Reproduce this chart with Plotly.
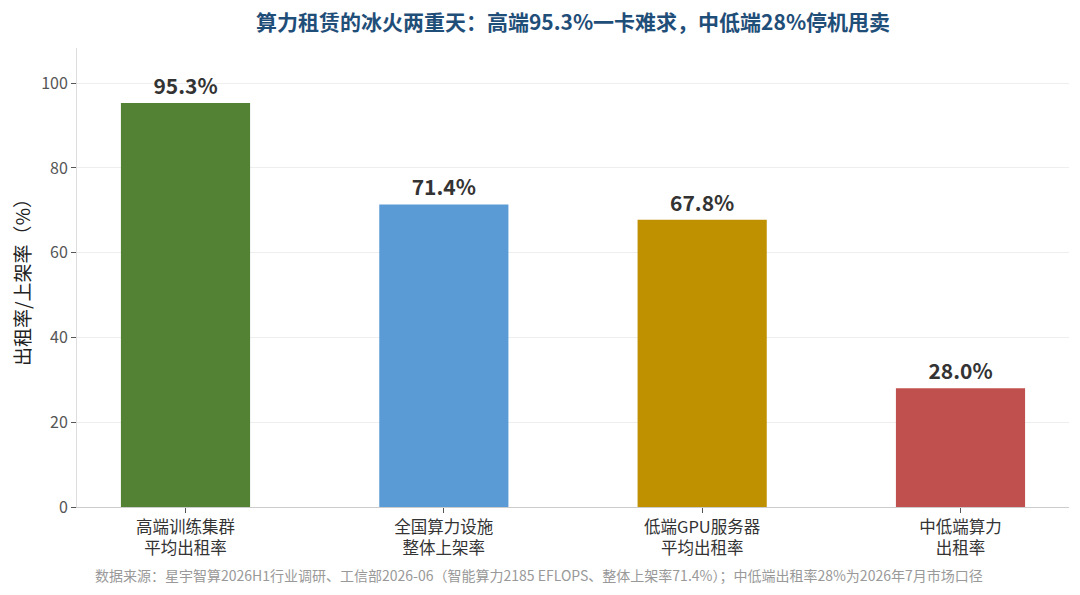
import plotly.graph_objects as go

categories = ["高端训练集群<br>平均出租率", "全国算力设施<br>整体上架率", "低端GPU服务器<br>平均出租率", "中低端算力<br>出租率"]
values = [95.3, 71.4, 67.8, 28.0]
bar_colors = ["#548235", "#5B9BD5", "#BF9000", "#C0504D"]

title_text = "算力租赁的冰火两重天：高端95.3%一卡难求，中低端28%停机甩卖"
source_text = ("数据来源：星宇智算2026H1行业调研、工信部2026-06（智能算力2185 EFLOPS、整体上架率71.4%）"
               "；中低端出租率28%为2026年7月市场口径")

font_family = "Noto Sans CJK SC, Noto Sans, sans-serif"

fig = go.Figure()
fig.add_trace(go.Bar(
    x=categories,
    y=values,
    marker=dict(color=bar_colors, line=dict(width=0)),
    width=0.5,
    text=[f"{v:.1f}%" for v in values],
    textposition="outside",
    textfont=dict(size=21, color="#333333", family=font_family, weight="bold"),
    cliponaxis=False,
))

# the page body adds an 8px margin, so the figure is sized to fit inside it
fig.update_layout(
    width=1064, height=579,
    paper_bgcolor="white", plot_bgcolor="white",
    font=dict(family=font_family, color="#555555"),
    margin=dict(l=69, r=3, t=40, b=80, autoexpand=False),
    title=dict(text=f"<b>{title_text}</b>", xref="paper", x=0.5, xanchor="center",
               y=0.975, yanchor="middle",
               font=dict(size=21, color="#1F4E79", family=font_family)),
    showlegend=False,
    xaxis=dict(
        range=[-0.42, 3.42],
        showline=True, linecolor="#CCCCCC", linewidth=1,
        ticks="outside", ticklen=5, tickcolor="#555555",
        tickfont=dict(size=16.5, color="#333333"),
        showgrid=False,
        automargin=False,
    ),
    yaxis=dict(
        range=[0, 108.3],
        tickvals=[0, 20, 40, 60, 80, 100],
        showline=True, linecolor="#DDDDDD", linewidth=1,
        ticks="outside", ticklen=5, tickcolor="#555555",
        tickfont=dict(size=16, color="#555555"),
        showgrid=True, gridcolor="#EEEEEE", gridwidth=1,
        zeroline=False,
        automargin=False,
        title=dict(text="出租率/上架率（%）", font=dict(size=19, color="#222222"), standoff=18),
    ),
    annotations=[dict(
        text=source_text, xref="paper", yref="paper", x=0.466, y=-0.148,
        xanchor="center", yanchor="middle", showarrow=False,
        font=dict(size=14, color="#999999", family=font_family),
    )],
)

fig.write_html("out.html")
